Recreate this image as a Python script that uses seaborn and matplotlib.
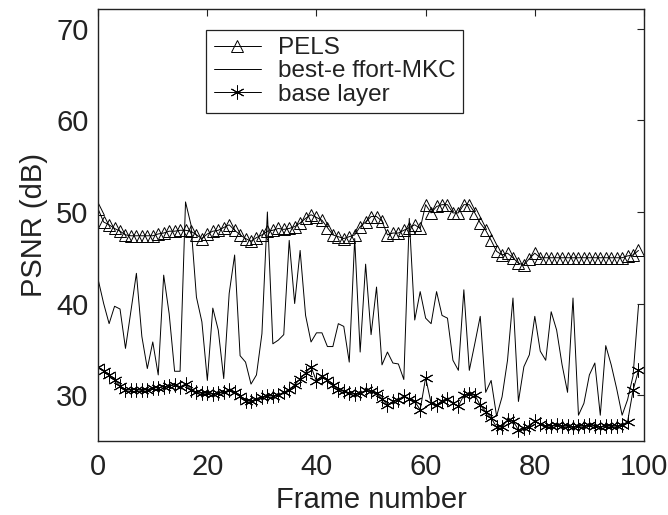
"""PSNR per frame: PELS vs best-effort MKC vs base layer."""

import matplotlib

matplotlib.use("Agg")

import matplotlib.pyplot as plt
import numpy as np
import seaborn as sns

FRAMES = np.arange(100)

PELS = [
    50.3, 48.9, 48.6, 48.2, 47.9, 47.5, 47.4, 47.4, 47.4, 47.4,
    47.4, 47.6, 47.7, 47.9, 47.9, 48.0, 48.0, 47.9, 47.5, 47.1,
    47.6, 47.9, 48.0, 48.3, 48.6, 48.0, 47.5, 47.1, 46.8, 47.2,
    47.5, 47.9, 48.0, 48.2, 48.1, 48.2, 48.4, 48.8, 49.3, 49.7,
    49.4, 49.1, 48.3, 47.5, 47.3, 47.1, 47.3, 47.5, 48.4, 48.9,
    49.5, 49.5, 49.0, 47.5, 47.7, 47.7, 48.0, 48.3, 48.6, 48.2,
    50.8, 49.9, 50.6, 50.8, 50.8, 49.9, 49.9, 50.8, 50.8, 49.9,
    48.8, 48.0, 46.9, 45.7, 45.3, 45.5, 45.0, 44.4, 44.2, 44.9,
    45.5, 45.0, 45.0, 45.0, 45.0, 45.0, 45.0, 45.0, 45.0, 45.0,
    45.0, 45.0, 45.0, 45.0, 45.0, 45.0, 45.0, 45.2, 45.3, 45.8,
]

BEST_EFFORT_MKC = [
    42.6, 40.0, 37.8, 39.7, 39.4, 35.1, 39.2, 43.3, 36.4, 32.9,
    35.8, 32.2, 43.1, 38.9, 32.6, 32.6, 51.1, 48.6, 40.7, 38.0,
    31.6, 39.5, 37.1, 31.8, 41.1, 45.3, 34.3, 33.6, 31.2, 32.2,
    36.7, 50.0, 35.6, 36.0, 36.6, 46.9, 40.0, 45.8, 38.7, 35.8,
    36.8, 36.8, 35.3, 35.3, 37.8, 37.5, 33.6, 47.1, 34.7, 44.3,
    36.6, 41.8, 33.3, 34.7, 33.5, 33.4, 31.7, 49.3, 38.2, 41.3,
    38.4, 37.8, 41.3, 38.7, 38.4, 33.8, 32.7, 41.5, 32.7, 35.6,
    38.6, 30.3, 31.6, 27.7, 29.8, 33.8, 40.6, 29.3, 33.1, 34.4,
    38.6, 34.8, 33.8, 39.1, 37.1, 33.3, 30.3, 40.6, 27.8, 29.1,
    32.2, 33.5, 27.8, 35.4, 33.3, 30.7, 27.8, 29.5, 32.1, 39.8,
]

BASE_LAYER = [
    33.1, 32.6, 32.2, 31.7, 31.0, 30.5, 30.6, 30.6, 30.5, 30.6,
    30.8, 30.8, 30.9, 31.0, 31.1, 30.9, 31.2, 30.6, 30.3, 30.2,
    30.2, 30.1, 30.2, 30.3, 30.5, 30.3, 29.9, 29.4, 29.3, 29.6,
    29.8, 29.9, 29.9, 30.0, 30.3, 30.6, 31.1, 31.8, 32.4, 33.1,
    31.5, 32.1, 31.7, 31.1, 30.6, 30.4, 30.2, 30.1, 30.2, 30.5,
    30.4, 30.2, 29.6, 28.9, 29.3, 29.5, 29.9, 29.6, 29.3, 28.4,
    31.9, 29.1, 28.9, 29.4, 29.6, 29.1, 28.8, 30.0, 30.1, 30.0,
    28.9, 28.2, 27.5, 26.5, 26.5, 27.3, 27.2, 26.2, 26.4, 26.5,
    27.2, 26.8, 26.6, 26.6, 26.7, 26.6, 26.6, 26.5, 26.6, 26.6,
    26.7, 26.6, 26.5, 26.6, 26.6, 26.6, 26.7, 27.1, 30.5, 32.7,
]

X_TICKS = [0, 20, 40, 60, 80, 100]
Y_TICKS = [30, 40, 50, 60, 70]


def main() -> None:
    sns.set_theme(style="white")
    plt.rcParams["font.family"] = ["Liberation Sans", "DejaVu Sans"]
    for key in ["axes.edgecolor", "text.color", "axes.labelcolor", "xtick.color", "ytick.color"]:
        plt.rcParams[key] = "#222222"

    fig, ax = plt.subplots(figsize=(6.68, 5.15), dpi=100)
    fig.subplots_adjust(left=0.147, right=0.964, top=0.983, bottom=0.144)

    sns.lineplot(
        x=FRAMES, y=PELS, ax=ax, color="black", linewidth=0.7, label="PELS",
        marker="^", markersize=9, markerfacecolor="none",
        markeredgecolor="black", markeredgewidth=0.7,
    )
    sns.lineplot(
        x=FRAMES, y=BEST_EFFORT_MKC, ax=ax, color="black", linewidth=0.7,
        label="best-e ffort-MKC",
    )
    sns.lineplot(
        x=FRAMES, y=BASE_LAYER, ax=ax, color="black", linewidth=0.7,
        label="base layer", marker=(6, 2, 0), markersize=10,
        markeredgecolor="black", markeredgewidth=0.7,
    )

    ax.set_xlim(0, 100)
    ax.set_ylim(25, 72.2)
    ax.set_xticks(X_TICKS)
    ax.set_yticks(Y_TICKS)
    ax.tick_params(direction="in", length=5, width=0.8, labelsize=21,
                   top=True, right=True)
    ax.tick_params(axis="x", pad=9)
    ax.tick_params(axis="y", pad=7)
    for spine in ax.spines.values():
        spine.set_linewidth(1.0)

    ax.set_xlabel("Frame number", fontsize=21, labelpad=3)
    ax.set_ylabel("PSNR (dB)", fontsize=21, labelpad=6)

    leg = ax.legend(
        loc="upper left", bbox_to_anchor=(0.198, 0.951), fontsize=17.5,
        frameon=True, fancybox=False, framealpha=1, edgecolor="#222222",
        handlelength=1.95, handletextpad=0.7, borderpad=0.3, labelspacing=0.05,
        borderaxespad=0,
    )
    leg.get_frame().set_linewidth(0.9)

    fig.savefig("out.png", dpi=100)
    plt.close(fig)


if __name__ == "__main__":
    main()
